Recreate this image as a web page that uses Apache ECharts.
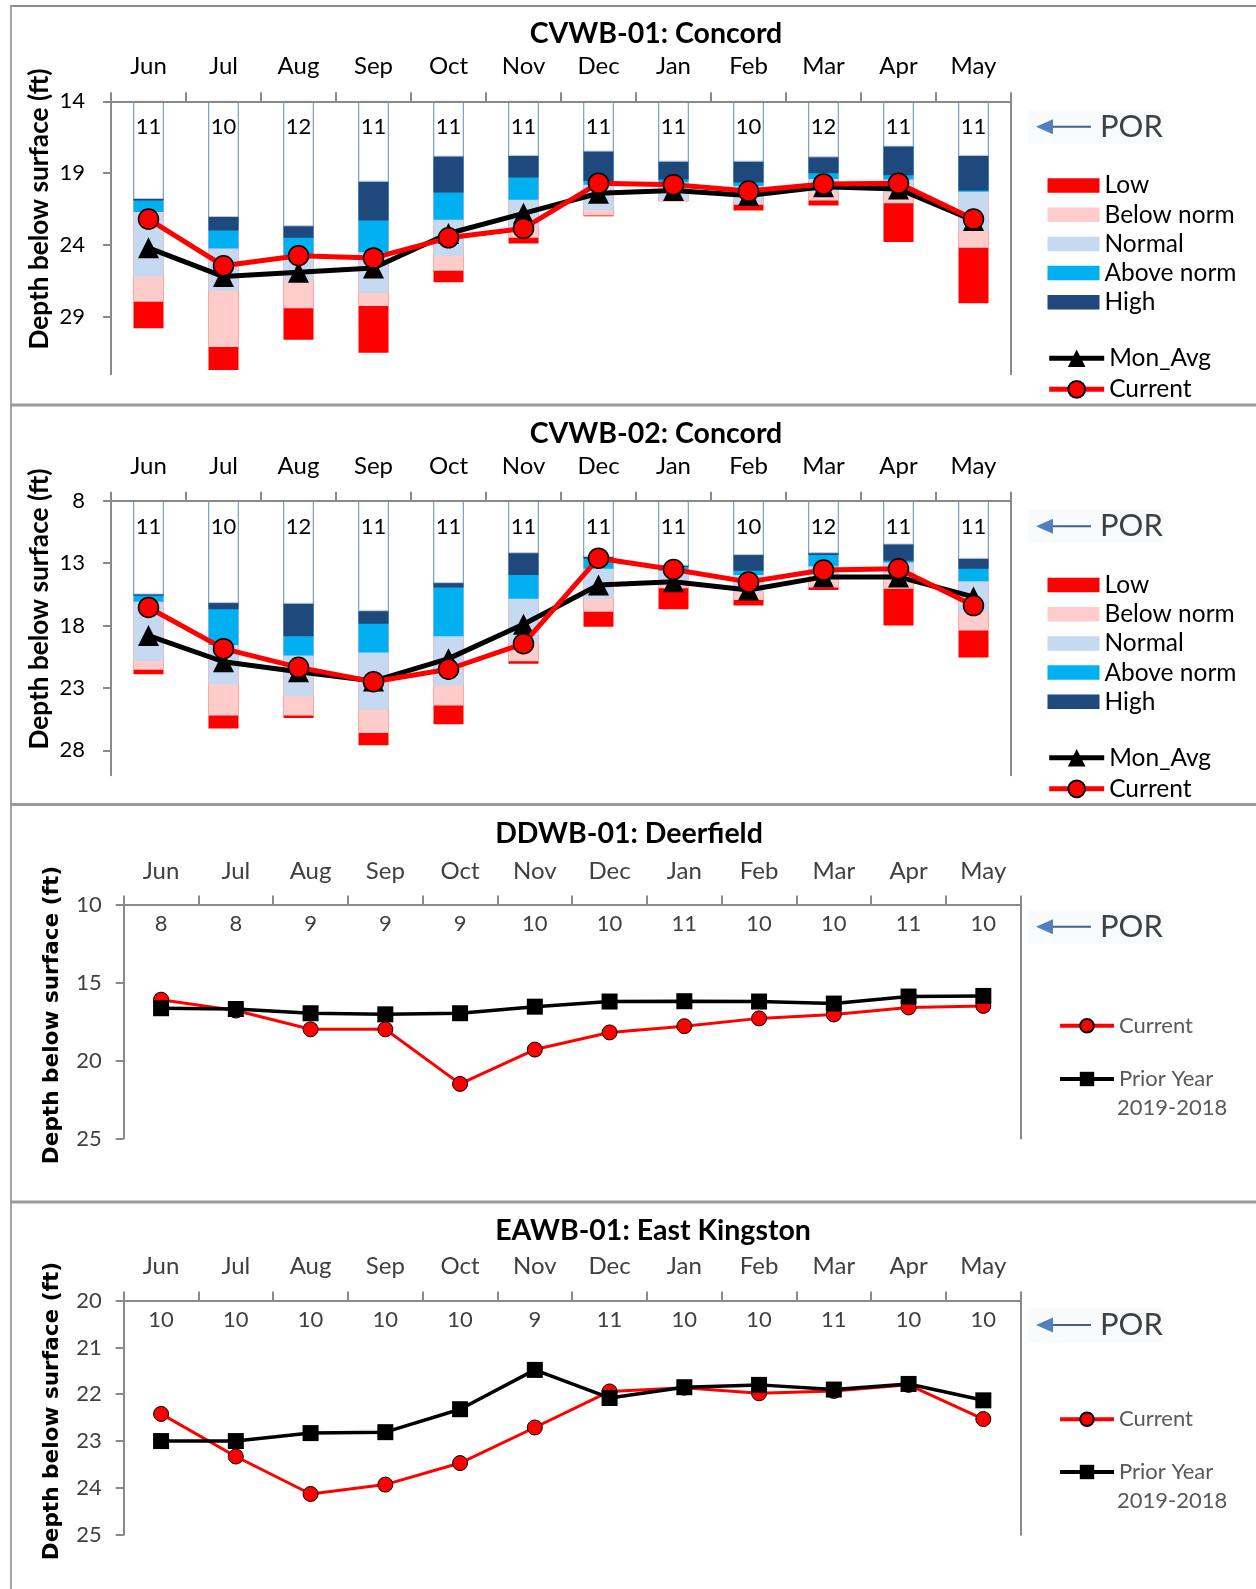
<!DOCTYPE html>
<html>
<head>
<meta charset="utf-8">
<script src="https://cdn.jsdelivr.net/npm/echarts@6/dist/echarts.min.js"></script>
<style>
html,body{margin:0;padding:0;background:#fff;}
#c{width:1256px;height:1589px;}
</style>
</head>
<body>
<div id="c"></div>
<script>
// ---------------- DATA ----------------
const months = ['Jun','Jul','Aug','Sep','Oct','Nov','Dec','Jan','Feb','Mar','Apr','May'];

// CVWB-01: Concord (depth below surface, ft)
const cv1Years     = [11,10,12,11,11,11,11,11,10,12,11,11];
const cv1Ticks     = [14,19,24,29];
const cv1HighTop   = [20.8,22.05,22.7,19.6,17.85,17.8,17.5,18.2,18.2,17.9,17.15,17.8];
const cv1HighBot   = [20.9,23.0,23.5,22.3,20.35,19.3,19.55,19.45,19.65,19.0,19.15,20.2];
const cv1AboveBot  = [21.7,24.25,24.75,24.5,22.25,20.85,19.8,19.65,19.9,19.4,19.45,20.3];
const cv1NormalBot = [26.2,27.2,26.45,27.35,24.75,22.8,21.55,20.85,21.0,20.35,20.4,23.0];
const cv1BelowBot  = [27.95,31.1,28.4,28.25,25.8,23.5,21.95,20.95,21.2,20.9,21.1,24.2];
const cv1LowBot    = [29.8,32.7,30.6,31.5,26.6,23.9,22.0,20.95,21.6,21.25,23.8,28.05];
const cv1MonAvg    = [24.2,26.2,25.9,25.6,23.2,21.8,20.4,20.2,20.55,19.95,20.1,22.3];
const cv1Current   = [22.2,25.45,24.75,24.9,23.5,22.85,19.7,19.8,20.25,19.75,19.7,22.2];

// CVWB-02: Concord
const cv2Years     = [11,10,12,11,11,11,11,11,10,12,11,11];
const cv2Ticks     = [8,13,18,23,28];
const cv2HighTop   = [15.5,16.2,16.25,16.85,14.6,12.2,12.5,13.2,12.35,12.2,11.5,12.65];
const cv2HighBot   = [15.6,16.7,18.85,17.85,14.95,13.95,12.65,13.3,13.6,12.35,12.8,13.45];
const cv2AboveBot  = [16.1,19.55,20.4,20.15,18.85,15.85,13.45,13.6,13.95,13.25,12.95,14.45];
const cv2NormalBot = [20.85,22.7,23.65,24.75,22.8,19.45,15.85,14.6,15.35,14.35,13.8,16.9];
const cv2BelowBot  = [21.55,25.2,25.2,26.6,24.4,20.85,16.9,15.0,15.95,14.95,15.05,18.4];
const cv2LowBot    = [21.9,26.25,25.4,27.6,25.9,21.05,18.1,16.7,16.4,15.15,18.0,20.55];
const cv2MonAvg    = [18.8,20.9,21.7,22.45,20.65,17.9,14.75,14.48,15.15,14.1,14.1,15.7];
const cv2Current   = [16.55,19.85,21.35,22.5,21.5,19.45,12.6,13.5,14.5,13.55,13.45,16.4];

// DDWB-01: Deerfield
const dd1Years   = [8,8,9,9,9,10,10,11,10,10,11,10];
const dd1Ticks   = [10,15,20,25];
const dd1Current = [16.1,16.8,18.0,18.0,21.5,19.3,18.2,17.8,17.3,17.05,16.6,16.5];
const dd1Prior   = [16.65,16.7,16.97,17.04,16.97,16.55,16.22,16.2,16.22,16.35,15.9,15.86];

// EAWB-01: East Kingston
const ea1Years   = [10,10,10,10,10,9,11,10,10,11,10,10];
const ea1Ticks   = [20,21,22,23,24,25];
const ea1Current = [22.42,23.33,24.13,23.93,23.47,22.71,21.94,21.86,21.98,21.93,21.8,22.53];
const ea1Prior   = [23.0,23.0,22.83,22.81,22.32,21.48,22.08,21.85,21.8,21.9,21.78,22.13];

const bandNames  = ['Low','Below norm','Normal','Above norm','High'];
const yName = 'Depth below surface (ft)';

// ---------------- LAYOUT / STYLE ----------------
const FONT = 'Lato, "Open Sans", sans-serif';
const AXIS = '#898989';
const bandColors = ['#ff0000','#ffcccc','#c5d9f1','#00b0f0','#1f497d'];

const panels = [
  { kind:'por', title:'CVWB-01: Concord', titleX:656, titleY:34, nameX:39.5, nameY:209,
    grid:{left:111, top:101.3, width:900, height:273}, min:14, max:33, ticks:cv1Ticks, years:cv1Years,
    bands:[cv1LowBot,cv1BelowBot,cv1NormalBot,cv1AboveBot,cv1HighBot], top:cv1HighTop,
    avg:cv1MonAvg, cur:cv1Current, color:'#000', monthMargin:23, countMargin:15, yMargin:26,
    porY:126.7, legY:185.5, lineLegY:358.3 },
  { kind:'por', title:'CVWB-02: Concord', titleX:656, titleY:434, nameX:39.5, nameY:609,
    grid:{left:111, top:500.8, width:900, height:274.5}, min:8, max:30, ticks:cv2Ticks, years:cv2Years,
    bands:[cv2LowBot,cv2BelowBot,cv2NormalBot,cv2AboveBot,cv2HighBot], top:cv2HighTop,
    avg:cv2MonAvg, cur:cv2Current, color:'#000', monthMargin:23, countMargin:15, yMargin:26,
    porY:526.2, legY:585, lineLegY:757.8 },
  { kind:'py', title:'DDWB-01: Deerfield', titleX:629, titleY:834, nameX:52.5, nameY:1015,
    grid:{left:123.7, top:904.5, width:897, height:234}, min:10, max:25, ticks:dd1Ticks, years:dd1Years,
    cur:dd1Current, prior:dd1Prior, color:'#404040', monthMargin:21, countMargin:8, yMargin:22,
    porY:926.7, curLegY:1025.7, priorLegY:1079, subY:1108 },
  { kind:'py', title:'EAWB-01: East Kingston', titleX:653, titleY:1231, nameX:52.5, nameY:1411,
    grid:{left:123.7, top:1300.6, width:897, height:234.1}, min:20, max:25, ticks:ea1Ticks, years:ea1Years,
    cur:ea1Current, prior:ea1Prior, color:'#404040', monthMargin:22, countMargin:8, yMargin:22,
    porY:1325, curLegY:1419.2, priorLegY:1472, subY:1501.3 }
];

const grids=[], xAxes=[], yAxes=[], series=[], legends=[], graphics=[];

function legendItem(name, left, cy, o) {
  const lh = 26;
  legends.push(Object.assign({
    data:[name], left:left, top:cy - lh/2, orient:'vertical', padding:0, itemGap:0,
    selectedMode:false,
    textStyle:{fontFamily:FONT, fontSize:24.5, color:'#000', lineHeight:lh}
  }, o));
}

function por(cy) {
  graphics.push({type:'rect', shape:{x:1028, y:cy-17, width:136, height:34, r:4},
    style:{fill:'rgba(215,228,240,0.18)'}, silent:true});
  graphics.push({type:'line', shape:{x1:1050, y1:cy, x2:1091, y2:cy},
    style:{stroke:'#41628f', lineWidth:2}, silent:true});
  graphics.push({type:'polygon', shape:{points:[[1036,cy],[1053,cy-7.5],[1053,cy+7.5]]},
    style:{fill:'#4f81bd'}, silent:true});
  graphics.push({type:'text', x:1100, y:cy, style:{text:'POR', fontFamily:FONT, fontSize:31,
    fill:'#404040', align:'left', verticalAlign:'middle'}, silent:true});
}

panels.forEach((p, i) => {
  grids.push(Object.assign({containLabel:false}, p.grid));
  const xm = xAxes.length, ym = yAxes.length;
  xAxes.push({type:'category', gridIndex:i, position:'top', data:months, boundaryGap:true, z:5,
    axisLine:{lineStyle:{color:AXIS, width:2}},
    axisTick:{show:true, length:9, lineStyle:{color:AXIS, width:2}},
    axisLabel:{fontFamily:FONT, fontSize:24, color:p.color, margin:p.monthMargin, lineHeight:24},
    splitLine:{show:false}});
  xAxes.push({type:'category', gridIndex:i, position:'top', data:p.years.map(String), boundaryGap:true, z:6,
    axisLine:{show:false}, axisTick:{show:false},
    axisLabel:{inside:true, fontFamily:FONT, fontSize:22, color:p.color, margin:p.countMargin, lineHeight:22},
    splitLine:{show:false}});
  yAxes.push({type:'value', gridIndex:i, position:'left', inverse:true, min:p.min, max:p.max, z:5,
    axisLine:{show:true, lineStyle:{color:AXIS, width:2}},
    axisTick:{show:true, length:8, lineStyle:{color:AXIS, width:2}, customValues:p.ticks},
    axisLabel:{customValues:p.ticks, fontFamily:FONT, fontSize:22, color:p.color, margin:p.yMargin},
    splitLine:{show:false}});
  yAxes.push({type:'value', gridIndex:i, position:'right', inverse:true, min:p.min, max:p.max, z:5,
    axisLine:{show:true, lineStyle:{color:AXIS, width:2}},
    axisTick:{show:false}, axisLabel:{show:false}, splitLine:{show:false}});

  if (p.kind === 'por') {
    p.bands.forEach((d, k) => {
      series.push({type:'bar', name:bandNames[k], xAxisIndex:xm, yAxisIndex:ym, data:d,
        barWidth:30, barGap:'-100%', itemStyle:{color:bandColors[k]}, silent:true, z:2});
    });
    series.push({type:'bar', name:'POR', xAxisIndex:xm, yAxisIndex:ym, data:p.top,
      barWidth:30, barGap:'-100%', itemStyle:{color:'#ffffff', borderColor:'#b8cce4', borderWidth:1},
      silent:true, z:2});
    series.push({type:'line', name:'Mon_Avg', xAxisIndex:xm, yAxisIndex:ym, data:p.avg,
      symbol:'triangle', symbolSize:21, showAllSymbol:true,
      lineStyle:{color:'#000', width:5}, itemStyle:{color:'#000'}, z:3});
    series.push({type:'line', name:'Current', xAxisIndex:xm, yAxisIndex:ym, data:p.cur,
      symbol:'circle', symbolSize:20, showAllSymbol:true,
      lineStyle:{color:'#ff0000', width:5},
      itemStyle:{color:'#ff0000', borderColor:'#000', borderWidth:1.5}, z:4});
    bandNames.forEach((n, k) => {
      legendItem(n, 1047.5, p.legY + k*29.2, {icon:'rect', itemWidth:52, itemHeight:14.5});
    });
    legendItem('Mon_Avg', 1046.7, p.lineLegY, {itemWidth:55, itemHeight:22, lineStyle:{width:5}});
    legendItem('Current', 1046.7, p.lineLegY + 31, {itemWidth:55, itemHeight:21, lineStyle:{width:5}});
  } else {
    series.push({type:'line', name:'Current ', xAxisIndex:xm, yAxisIndex:ym, data:p.cur,
      symbol:'circle', symbolSize:15, showAllSymbol:true,
      lineStyle:{color:'#ff0000', width:3},
      itemStyle:{color:'#ff0000', borderColor:'#000', borderWidth:1}, z:3});
    series.push({type:'line', name:'Prior Year', xAxisIndex:xm, yAxisIndex:ym, data:p.prior,
      symbol:'rect', symbolSize:16, showAllSymbol:true,
      lineStyle:{color:'#000', width:3.5}, itemStyle:{color:'#000'}, z:4});
    const ts = {fontFamily:FONT, fontSize:22, color:'#595959', lineHeight:26};
    legendItem('Current ', 1058, p.curLegY, {itemWidth:54, itemHeight:17, lineStyle:{width:4}, textStyle:ts});
    legendItem('Prior Year', 1058, p.priorLegY, {itemWidth:54, itemHeight:18, lineStyle:{width:4}, textStyle:ts});
    graphics.push({type:'text', x:1117, y:p.subY, style:{text:'2019-2018', fontFamily:FONT, fontSize:22,
      fill:'#595959', align:'left', verticalAlign:'middle'}, silent:true});
  }
  por(p.porY);
  graphics.push({type:'text', x:p.titleX, y:p.titleY, style:{text:p.title, fontFamily:FONT, fontWeight:'bold',
    fontSize:28.5, fill:'#000', align:'center', verticalAlign:'middle'}, silent:true});
  const nameFont = p.kind === 'por' ? FONT : '"DejaVu Sans", Verdana, sans-serif';
  const nameSize = p.kind === 'por' ? 26.2 : 21.6;
  graphics.push({type:'text', x:p.nameX, y:p.nameY, rotation:Math.PI/2,
    style:{text:yName, fontFamily:nameFont, fontWeight:'bold', fontSize:nameSize, fill:'#000',
      align:'center', verticalAlign:'middle'}, silent:true});
});

// panel frames
graphics.push({type:'line', shape:{x1:10, y1:6, x2:1256, y2:6}, style:{stroke:'#8c8c8c', lineWidth:2}, silent:true});
graphics.push({type:'line', shape:{x1:11, y1:6, x2:11, y2:1589}, style:{stroke:'#a6a6a6', lineWidth:2}, silent:true});
[405, 804.5, 1202].forEach(y => {
  graphics.push({type:'line', shape:{x1:10, y1:y, x2:1256, y2:y}, style:{stroke:'#9a9a9a', lineWidth:3}, silent:true});
});

const chart = echarts.init(document.getElementById('c'), null, {renderer:'canvas', width:1256, height:1589});
chart.setOption({
  animation:false,
  backgroundColor:'#ffffff',
  textStyle:{fontFamily:FONT},
  grid:grids, xAxis:xAxes, yAxis:yAxes, series:series, legend:legends,
  graphic:{elements:graphics}
});
</script>
</body>
</html>
